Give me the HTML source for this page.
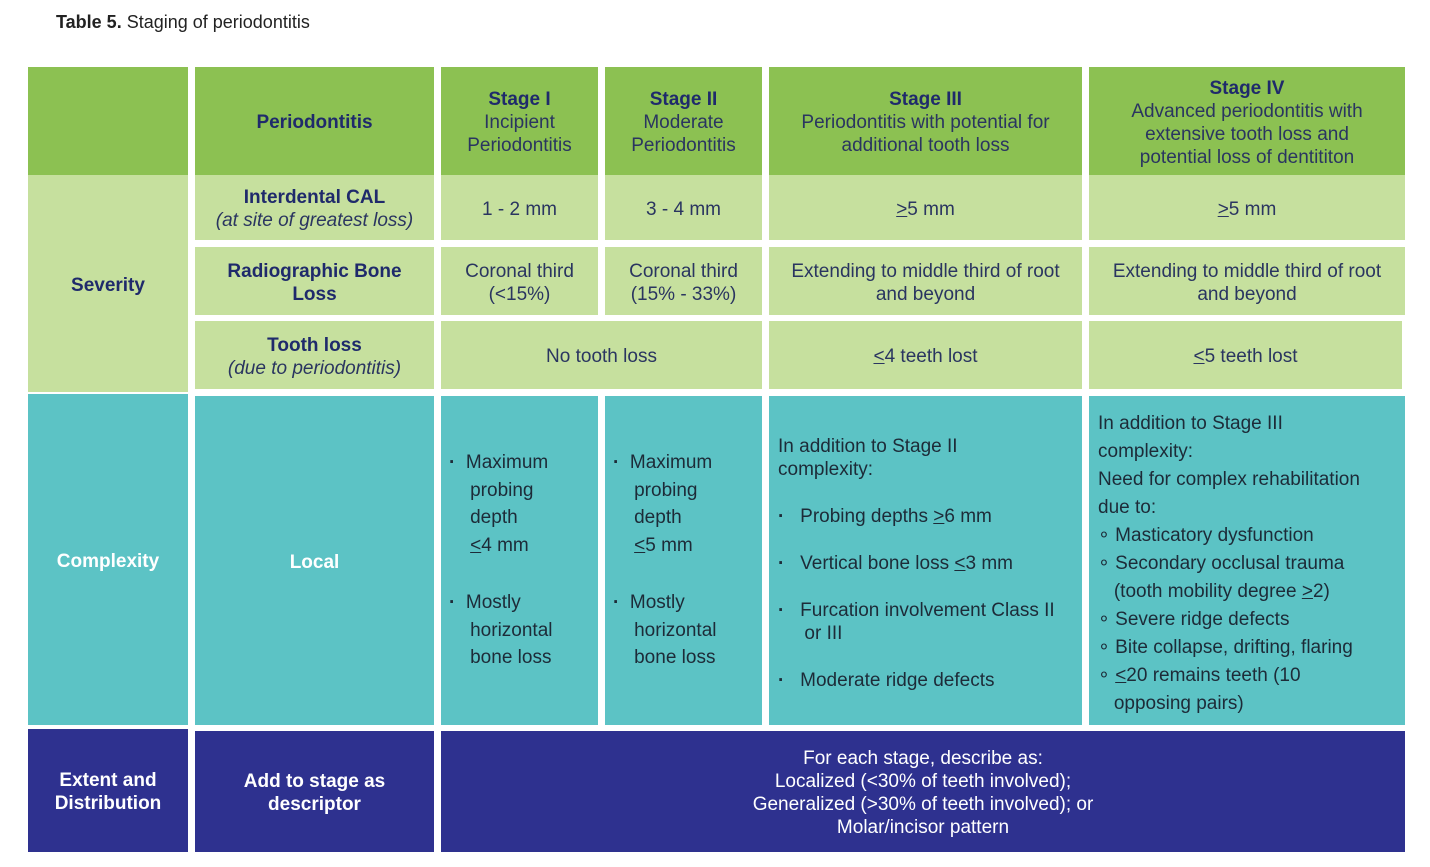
<!DOCTYPE html>
<html><head><meta charset="utf-8"><style>
body{margin:0;width:1430px;height:867px;background:#fff;position:relative;overflow:hidden;font-family:"Liberation Sans",sans-serif;}
.c{position:absolute;display:flex;align-items:center;justify-content:center;text-align:center;box-sizing:border-box;font-size:19px;line-height:23px;color:#2a3560;padding-top:3px;}
.g{background:#8cc152;}
.l{background:#c6e09e;}
.t{background:#5cc3c5;color:#1d2b38;}
.n{background:#2e318f;color:#fff;}
b{font-weight:bold;color:#1f2a6b;}
.n b,.w b{color:#fff;}
.lst{text-align:left;justify-content:flex-start;align-items:flex-start;}
.bu{font-weight:bold;}
</style></head><body>
<div style="position:absolute;left:56px;top:12px;font-size:18px;color:#222;"><b style="color:#222">Table 5.</b> Staging of periodontitis</div>

<div class="c g" style="left:28px;top:67px;width:160px;height:108px"></div>
<div class="c g" style="left:195px;top:67px;width:239px;height:108px"><b>Periodontitis</b></div>
<div class="c g" style="left:441px;top:67px;width:157px;height:108px"><div><b>Stage I</b><br>Incipient<br>Periodontitis</div></div>
<div class="c g" style="left:605px;top:67px;width:157px;height:108px"><div><b>Stage II</b><br>Moderate<br>Periodontitis</div></div>
<div class="c g" style="left:769px;top:67px;width:313px;height:108px"><div><b>Stage III</b><br>Periodontitis with potential for<br>additional tooth loss</div></div>
<div class="c g" style="left:1089px;top:67px;width:316px;height:108px"><div><b>Stage IV</b><br>Advanced periodontitis with<br>extensive tooth loss and<br>potential loss of dentititon</div></div>

<div class="c l" style="left:28px;top:175px;width:160px;height:217px"><b>Severity</b></div>
<div class="c l" style="left:195px;top:175px;width:239px;height:65px"><div><b>Interdental CAL</b><br><i>(at site of greatest loss)</i></div></div>
<div class="c l" style="left:441px;top:175px;width:157px;height:65px">1 - 2 mm</div>
<div class="c l" style="left:605px;top:175px;width:157px;height:65px">3 - 4 mm</div>
<div class="c l" style="left:769px;top:175px;width:313px;height:65px"><u>&gt;</u>5 mm</div>
<div class="c l" style="left:1089px;top:175px;width:316px;height:65px"><u>&gt;</u>5 mm</div>

<div class="c l" style="left:195px;top:247px;width:239px;height:68px"><div><b>Radiographic Bone<br>Loss</b></div></div>
<div class="c l" style="left:441px;top:247px;width:157px;height:68px"><div>Coronal third<br>(&lt;15%)</div></div>
<div class="c l" style="left:605px;top:247px;width:157px;height:68px"><div>Coronal third<br>(15% - 33%)</div></div>
<div class="c l" style="left:769px;top:247px;width:313px;height:68px"><div>Extending to middle third of root<br>and beyond</div></div>
<div class="c l" style="left:1089px;top:247px;width:316px;height:68px"><div>Extending to middle third of root<br>and beyond</div></div>

<div class="c l" style="left:195px;top:321px;width:239px;height:68px"><div><b>Tooth loss</b><br><i>(due to periodontitis)</i></div></div>
<div class="c l" style="left:441px;top:321px;width:321px;height:68px">No tooth loss</div>
<div class="c l" style="left:769px;top:321px;width:313px;height:68px"><u>&lt;</u>4 teeth lost</div>
<div class="c l" style="left:1089px;top:321px;width:313px;height:68px"><u>&lt;</u>5 teeth lost</div>

<div class="c t w" style="left:28px;top:394px;width:160px;height:331px"><b>Complexity</b></div>
<div class="c t w" style="left:195px;top:396px;width:239px;height:329px"><b>Local</b></div>
<div class="c t lst" style="left:441px;top:396px;width:157px;height:329px;padding:53px 0 0 8px;line-height:27.5px"><div><span class="bu">·</span>&nbsp; Maximum<br>&nbsp;&nbsp;&nbsp;&nbsp;probing<br>&nbsp;&nbsp;&nbsp;&nbsp;depth<br>&nbsp;&nbsp;&nbsp;&nbsp;<u>&lt;</u>4 mm<div style="height:30px"></div><span class="bu">·</span>&nbsp; Mostly<br>&nbsp;&nbsp;&nbsp;&nbsp;horizontal<br>&nbsp;&nbsp;&nbsp;&nbsp;bone loss</div></div>
<div class="c t lst" style="left:605px;top:396px;width:157px;height:329px;padding:53px 0 0 8px;line-height:27.5px"><div><span class="bu">·</span>&nbsp; Maximum<br>&nbsp;&nbsp;&nbsp;&nbsp;probing<br>&nbsp;&nbsp;&nbsp;&nbsp;depth<br>&nbsp;&nbsp;&nbsp;&nbsp;<u>&lt;</u>5 mm<div style="height:30px"></div><span class="bu">·</span>&nbsp; Mostly<br>&nbsp;&nbsp;&nbsp;&nbsp;horizontal<br>&nbsp;&nbsp;&nbsp;&nbsp;bone loss</div></div>
<div class="c t lst" style="left:769px;top:396px;width:313px;height:329px;padding:39px 0 0 9px;line-height:23px"><div>In addition to Stage II<br>complexity:<div style="height:24px"></div><span class="bu">·</span>&nbsp;&nbsp; Probing depths <u>&gt;</u>6 mm<div style="height:24px"></div><span class="bu">·</span>&nbsp;&nbsp; Vertical bone loss <u>&lt;</u>3 mm<div style="height:24px"></div><span class="bu">·</span>&nbsp;&nbsp; Furcation involvement Class II<br>&nbsp;&nbsp;&nbsp;&nbsp; or III<div style="height:24px"></div><span class="bu">·</span>&nbsp;&nbsp; Moderate ridge defects</div></div>
<div class="c t lst" style="left:1089px;top:396px;width:316px;height:329px;padding:14px 0 0 9px;line-height:28px"><div>In addition to Stage III<br>complexity:<br>Need for complex rehabilitation<br>due to:<br>∘ Masticatory dysfunction<br>∘ Secondary occlusal trauma<br>&nbsp;&nbsp;&nbsp;(tooth mobility degree <u>&gt;</u>2)<br>∘ Severe ridge defects<br>∘ Bite collapse, drifting, flaring<br>∘ <u>&lt;</u>20 remains teeth (10<br>&nbsp;&nbsp;&nbsp;opposing pairs)</div></div>

<div class="c n" style="left:28px;top:729px;width:160px;height:123px"><div><b>Extent and<br>Distribution</b></div></div>
<div class="c n" style="left:195px;top:731px;width:239px;height:121px"><div><b>Add to stage as<br>descriptor</b></div></div>
<div class="c n" style="left:441px;top:731px;width:964px;height:121px"><div>For each stage, describe as:<br>Localized (&lt;30% of teeth involved);<br>Generalized (&gt;30% of teeth involved); or<br>Molar/incisor pattern</div></div>
</body></html>
